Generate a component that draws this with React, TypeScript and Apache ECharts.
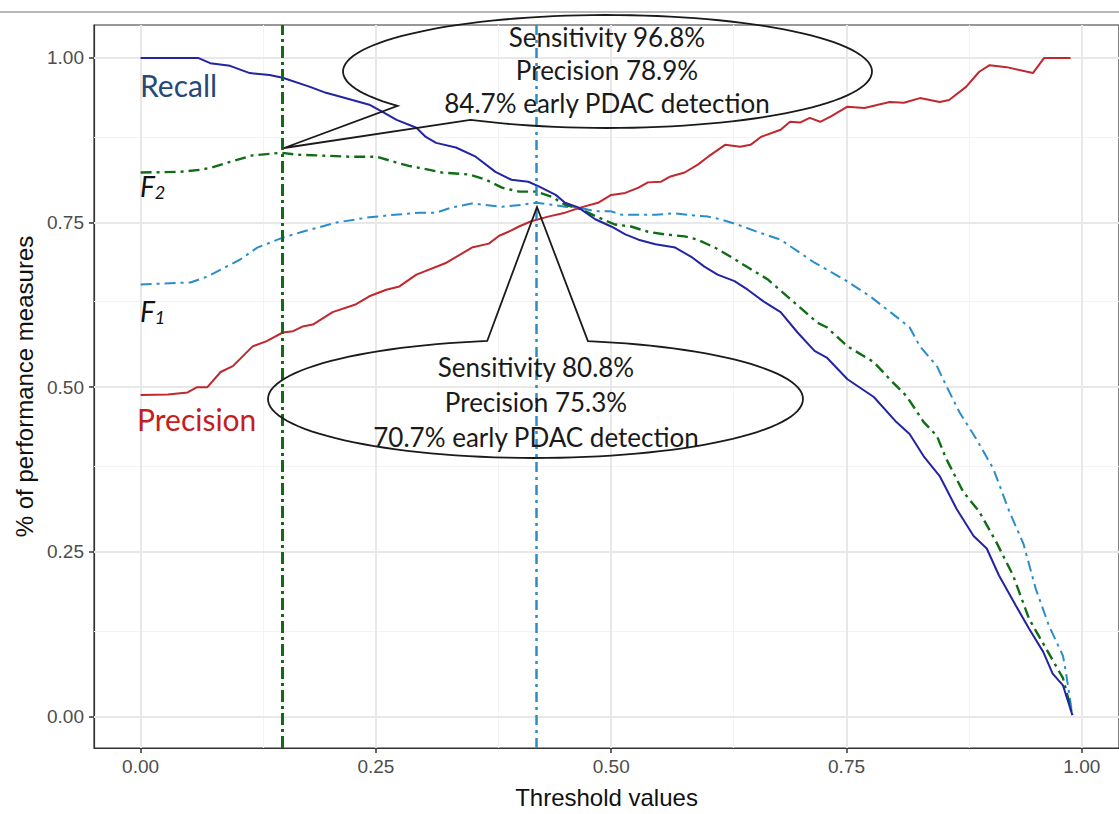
import React, { useEffect, useRef } from "react";
import * as echarts from "echarts";

// ---- data ----
const recallX = [0,0.061,0.074,0.095,0.116,0.137,0.151,0.180,0.197,0.225,0.243,0.257,0.272,0.293,0.303,0.314,0.335,0.356,0.377,0.394,0.412,0.423,0.441,0.451,0.465,0.483,0.500,0.515,0.529,0.547,0.568,0.585,0.599,0.613,0.631,0.645,0.663,0.680,0.698,0.716,0.729,0.751,0.779,0.803,0.817,0.832,0.849,0.867,0.885,0.899,0.912,0.930,0.944,0.959,0.969,0.980,0.990];
const recallY = [1.000,1.000,0.992,0.988,0.977,0.974,0.970,0.956,0.947,0.936,0.929,0.918,0.906,0.894,0.880,0.871,0.864,0.850,0.827,0.815,0.812,0.805,0.792,0.780,0.773,0.755,0.744,0.732,0.724,0.717,0.712,0.698,0.683,0.671,0.661,0.648,0.629,0.614,0.583,0.555,0.545,0.512,0.485,0.447,0.429,0.395,0.365,0.315,0.274,0.255,0.214,0.168,0.133,0.098,0.065,0.047,0.002];

const f2X = [0,0.042,0.063,0.074,0.095,0.119,0.150,0.166,0.187,0.222,0.251,0.272,0.285,0.307,0.320,0.349,0.367,0.384,0.402,0.420,0.437,0.451,0.468,0.486,0.504,0.521,0.539,0.557,0.578,0.592,0.610,0.627,0.645,0.666,0.687,0.719,0.729,0.751,0.779,0.796,0.814,0.832,0.846,0.856,0.874,0.891,0.909,0.927,0.944,0.962,0.980,0.990];
const f2Y = [0.826,0.827,0.830,0.833,0.842,0.852,0.856,0.853,0.852,0.850,0.850,0.841,0.836,0.830,0.826,0.823,0.815,0.803,0.797,0.797,0.789,0.777,0.770,0.758,0.747,0.744,0.736,0.732,0.729,0.724,0.712,0.698,0.682,0.664,0.638,0.598,0.591,0.562,0.538,0.512,0.486,0.447,0.426,0.391,0.341,0.311,0.265,0.214,0.148,0.103,0.058,0.002];

const f1X = [0,0.053,0.071,0.106,0.124,0.151,0.172,0.208,0.243,0.264,0.296,0.314,0.331,0.352,0.384,0.405,0.420,0.437,0.451,0.465,0.483,0.500,0.511,0.529,0.547,0.568,0.585,0.603,0.616,0.634,0.655,0.680,0.716,0.747,0.775,0.793,0.817,0.828,0.846,0.856,0.870,0.888,0.906,0.923,0.938,0.951,0.965,0.980,0.983,0.990];
const f1Y = [0.656,0.659,0.668,0.694,0.712,0.727,0.736,0.750,0.758,0.761,0.765,0.765,0.773,0.779,0.774,0.777,0.780,0.777,0.774,0.773,0.767,0.767,0.762,0.762,0.762,0.764,0.761,0.759,0.755,0.747,0.736,0.724,0.689,0.664,0.638,0.618,0.591,0.562,0.532,0.502,0.462,0.421,0.376,0.311,0.262,0.194,0.138,0.092,0.068,0.002];

const precX = [0,0.029,0.050,0.060,0.071,0.085,0.098,0.119,0.134,0.151,0.162,0.172,0.183,0.204,0.229,0.243,0.261,0.275,0.293,0.325,0.352,0.370,0.381,0.394,0.402,0.415,0.433,0.451,0.468,0.486,0.500,0.515,0.529,0.539,0.553,0.563,0.578,0.592,0.603,0.621,0.637,0.648,0.659,0.680,0.690,0.701,0.711,0.722,0.733,0.751,0.769,0.796,0.811,0.828,0.849,0.859,0.877,0.891,0.902,0.920,0.948,0.960,0.988];
const precY = [0.488,0.489,0.492,0.500,0.500,0.523,0.532,0.562,0.570,0.583,0.585,0.592,0.595,0.614,0.626,0.638,0.648,0.653,0.671,0.689,0.712,0.718,0.730,0.738,0.744,0.752,0.759,0.765,0.773,0.780,0.792,0.795,0.803,0.811,0.812,0.820,0.826,0.838,0.850,0.868,0.865,0.868,0.880,0.891,0.903,0.902,0.909,0.903,0.911,0.926,0.924,0.933,0.932,0.939,0.933,0.936,0.956,0.979,0.989,0.986,0.977,1.000,1.000];

const tickValues = [0, 0.25, 0.5, 0.75, 1];
const minorValues = [0.125, 0.375, 0.625, 0.875];
const cutoffF2 = 0.15;
const cutoffF1 = 0.42;

const upperNote = ["Sensitivity 96.8%", "Precision 78.9%", "84.7% early PDAC detection"];
const lowerNote = ["Sensitivity 80.8%", "Precision 75.3%", "70.7% early PDAC detection"];

const zip = (xs: number[], ys: number[]) => xs.map((x, i) => [x, ys[i]]);

function calloutPoints(cx: number, cy: number, rx: number, ry: number, a0: number, a1: number, tip: number[]) {
  const pts: number[][] = [];
  const n = 120;
  for (let i = 0; i <= n; i++) {
    const a = ((a0 + (a1 - a0) * (i / n)) * Math.PI) / 180;
    pts.push([cx + rx * Math.cos(a), cy + ry * Math.sin(a)]);
  }
  pts.push(tip);
  return pts;
}

export default function App() {
  const ref = useRef<HTMLDivElement>(null);
  useEffect(() => {
    document.body.style.margin = "0";
    const chart = echarts.init(ref.current!, null, { renderer: "svg" });
    const GREEN = "#0f6e14";
    const LBLUE = "#2b8dc8";
    const NAVY = "#2323a3";
    const RED = "#c1272d";
    const noteFont = "Lato";
    const subRich = {
      a: { fontSize: 28, fontStyle: "italic", fontFamily: noteFont, fill: "#111", lineHeight: 30 },
      b: { fontSize: 18, fontStyle: "italic", fontFamily: noteFont, fill: "#111", lineHeight: 12, verticalAlign: "bottom" },
    };
    const option: any = {
      animation: false,
      backgroundColor: "#ffffff",
      grid: { left: 94, top: 25, width: 1029, height: 725, show: true, borderColor: "#333", borderWidth: 1.2, backgroundColor: "transparent" },
      xAxis: {
        type: "value", min: -0.0495, max: 1.0395,
        splitLine: { show: false },
        axisLine: { show: true, onZero: false, lineStyle: { color: "#333", width: 1.2 } },
        axisTick: { show: true, length: 5, customValues: tickValues, lineStyle: { color: "#333", width: 1.5 } },
        axisLabel: { customValues: tickValues, formatter: (v: number) => v.toFixed(2), color: "#4d4d4d", fontSize: 19, fontFamily: "Liberation Sans", margin: 9 },
        name: "Threshold values", nameLocation: "middle", nameGap: 37,
        nameTextStyle: { color: "#111", fontSize: 24, fontFamily: "Liberation Sans" },
      },
      yAxis: {
        type: "value", min: -0.048, max: 1.05,
        splitLine: { show: false },
        axisLine: { show: true, onZero: false, lineStyle: { color: "#333", width: 1.2 } },
        axisTick: { show: true, length: 5, customValues: tickValues, lineStyle: { color: "#333", width: 1.5 } },
        axisLabel: { customValues: tickValues, formatter: (v: number) => v.toFixed(2), color: "#4d4d4d", fontSize: 19, fontFamily: "Liberation Sans", margin: 10 },
        name: "% of performance measures", nameLocation: "middle", nameGap: 56,
        nameTextStyle: { color: "#111", fontSize: 24, fontFamily: "Liberation Sans" },
      },
      series: [
        {
          type: "line", data: [], z: 1, silent: true,
          markLine: {
            silent: true, z: 1, symbol: ["none", "none"], label: { show: false },
            data: [
              ...minorValues.map((v) => ({ xAxis: v, lineStyle: { color: "#f3f3f3", width: 1, type: "solid" } })),
              ...minorValues.map((v) => ({ yAxis: v, lineStyle: { color: "#f3f3f3", width: 1, type: "solid" } })),
              ...tickValues.map((v) => ({ xAxis: v, lineStyle: { color: "#e8e8e8", width: 2, type: "solid" } })),
              ...tickValues.map((v) => ({ yAxis: v, lineStyle: { color: "#e8e8e8", width: 2, type: "solid" } })),
            ],
          },
        },
        {
          name: "F1", type: "line", z: 3, showSymbol: false, data: zip(f1X, f1Y),
          lineStyle: { color: LBLUE, width: 2, type: [11, 5, 3, 5] },
        },
        {
          name: "F2", type: "line", z: 3, showSymbol: false, data: zip(f2X, f2Y),
          lineStyle: { color: GREEN, width: 2.4, type: [11, 5, 3, 5] },
        },
        {
          name: "Precision", type: "line", z: 4, showSymbol: false, data: zip(precX, precY),
          lineStyle: { color: RED, width: 2 },
        },
        {
          name: "Recall", type: "line", z: 4, showSymbol: false, data: zip(recallX, recallY),
          lineStyle: { color: NAVY, width: 2 },
        },
        {
          type: "line", data: [], z: 5, silent: true,
          markLine: {
            silent: true, z: 5, symbol: ["none", "none"], label: { show: false },
            data: [
              { xAxis: cutoffF2, lineStyle: { color: GREEN, width: 3, type: [12, 4, 3, 4] } },
              { xAxis: cutoffF1, lineStyle: { color: LBLUE, width: 2.5, type: [10, 5, 3, 5] } },
            ],
          },
        },
      ],
      graphic: [
        { type: "line", shape: { x1: 0, y1: 12, x2: 1119, y2: 12 }, style: { stroke: "#a0a0a0", lineWidth: 1.5 }, z: 100 },
        {
          type: "polygon", z: 100,
          shape: { points: calloutPoints(607.5, 71.5, 264.5, 56.5, 142.5, 481.2, [284, 148]) },
          style: { fill: "none", stroke: "#1a1a1a", lineWidth: 1.8 },
        },
        {
          type: "polygon", z: 100,
          shape: { points: calloutPoints(535.5, 399, 267.5, 59, 281.3, 619.6, [537, 207]) },
          style: { fill: "none", stroke: "#1a1a1a", lineWidth: 1.8 },
        },
        ...upperNote.map((t, i) => ({
          type: "text", z: 101,
          style: { text: t, x: 607, y: 37 + i * 33, align: "center", verticalAlign: "middle", fill: "#1a1a1a", fontSize: 26, fontFamily: noteFont },
        })),
        ...lowerNote.map((t, i) => ({
          type: "text", z: 101,
          style: { text: t, x: 536, y: 367 + i * 35, align: "center", verticalAlign: "middle", fill: "#1a1a1a", fontSize: 26, fontFamily: noteFont },
        })),
        {
          type: "text", z: 101,
          style: { text: "Recall", x: 140, y: 85, align: "left", verticalAlign: "middle", fill: "#254a7a", fontSize: 30, fontFamily: noteFont },
        },
        {
          type: "text", z: 101,
          style: { text: "Precision", x: 137, y: 419, align: "left", verticalAlign: "middle", fill: "#c41e1e", fontSize: 30, fontFamily: noteFont },
        },
        {
          type: "text", z: 101,
          style: { text: "{a|F}{b|2}", x: 140, y: 186, align: "left", verticalAlign: "middle", rich: subRich },
        },
        {
          type: "text", z: 101,
          style: { text: "{a|F}{b|1}", x: 140, y: 311, align: "left", verticalAlign: "middle", rich: subRich },
        },
      ],
    };
    chart.setOption(option);
    return () => chart.dispose();
  }, []);
  return <div ref={ref} style={{ width: 1119, height: 814 }} />;
}
